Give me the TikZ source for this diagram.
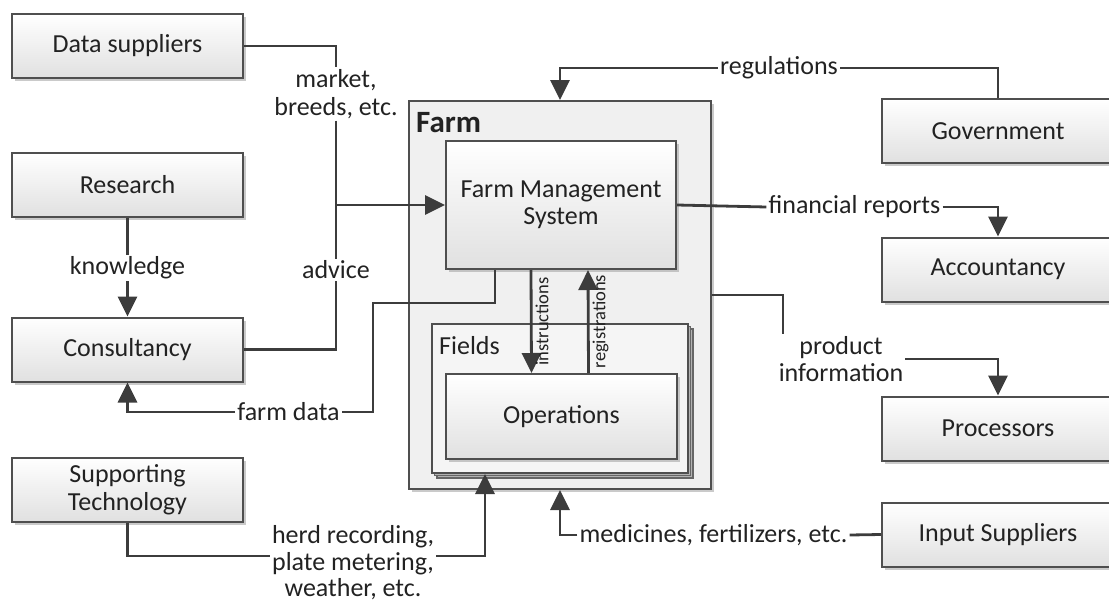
\documentclass[tikz,border=0pt]{standalone}
\usepackage{fontspec}
\setmainfont{Carlito}
\usetikzlibrary{arrows.meta,shadows}

\definecolor{linea}{HTML}{3C3C3C}
\definecolor{borde}{HTML}{4F4F4F}
\definecolor{texto}{HTML}{222222}

\begin{document}
\begin{tikzpicture}[x=1pt, y=-1pt, >={Triangle[length=20pt,width=19pt]},
  text=texto, font=\fontsize{26}{27.5}\selectfont,
  box/.style={draw=borde, line width=2pt, top color=white, bottom color=black!12,
    minimum width=231pt, minimum height=64pt, inner sep=0pt, align=center,
    drop shadow={shadow xshift=3pt, shadow yshift=-3pt, fill=black!35, opacity=0.6}},
  lbl/.style={inner sep=2pt, align=center},
  flow/.style={draw=linea, line width=2.8pt},
  vlbl/.style={rotate=90, anchor=north, inner sep=3pt, font=\fontsize{18.5}{20}\selectfont}]
  \useasboundingbox (0,0) rectangle (1109,605);
  % granja
  \node[draw=borde, line width=2pt, fill=black!6, minimum width=302pt, minimum height=388pt,
    drop shadow={shadow xshift=3pt, shadow yshift=-3pt, fill=black!35, opacity=0.6}] (farm) at (560,295) {};
  \node[anchor=north west, inner sep=0pt, font=\fontsize{31}{34}\selectfont\bfseries] (farmlbl)
    at ([xshift=8pt,yshift=-12pt]farm.north west) {Farm};
  \node[draw=borde, line width=2pt, fill=black!4, minimum width=256pt, minimum height=149pt,
    double copy shadow={shadow xshift=2.5pt, shadow yshift=-2.5pt, draw=black!60, fill=black!30, line width=1.2pt}] (fields) at (560,398.5) {};
  \node[anchor=north west, inner sep=0pt] (fieldslbl)
    at ([xshift=8pt,yshift=-13pt]fields.north west) {Fields};
  \node[box, minimum width=230pt, minimum height=128pt] (fms) at (561,205) {Farm Management\\System};
  \node[box, minimum height=85pt] (ops) at (561.5,416.5) {Operations};
  % actores izquierda
  \node[box] (ds) at (127.5,46) {Data suppliers};
  \node[box] (res) at (127.5,185) {Research};
  \node[box] (cons) at (127.5,349.5) {Consultancy};
  \node[box] (st) at (127.5,489.5) {Supporting\\Technology};
  % actores derecha
  \node[box, minimum width=232pt] (gov) at (998,131) {Government};
  \node[box, minimum width=232pt] (acc) at (998,269.5) {Accountancy};
  \node[box, minimum width=232pt] (proc) at (998,428.5) {Processors};
  \node[box, minimum width=232pt] (inp) at (998,534.5) {Input Suppliers};
  % etiquetas
  \node[lbl] (mkt) at (336,94) {market,\\breeds, etc.};
  \node[lbl] (adv) at (336,270) {advice};
  \node[lbl] (knw) at (127.5,268) {knowledge};
  \node[lbl] (fd) at (288.5,412) {farm data};
  \node[lbl, font=\fontsize{26}{26.5}\selectfont] (herd) at (353,563) {herd recording,\\plate metering,\\weather, etc.};
  \node[lbl] (med) at (713.5,535) {medicines, fertilizers, etc.};
  \node[lbl] (reg) at (779,68) {regulations};
  \node[lbl] (fin) at (854.5,207) {financial reports};
  \node[lbl] (prod) at (841,359) {product\\information};
  \coordinate (jn) at (336,205);
  \coordinate (fdk) at (373,303);
  % flujos izquierda
  \draw[flow] (ds.east) -| (mkt.north);
  \draw[flow] (mkt.south) -- (jn);
  \draw[flow] (cons.east) -| (adv.south);
  \draw[flow] (adv.north) -- (jn);
  \draw[flow, ->] (jn) -- (fms.west);
  \draw[flow] (res.south) -- (knw.north);
  \draw[flow, ->] (knw.south) -- (cons.north);
  \draw[flow] ([xshift=50pt]fms.south west) |- (fdk) |- (fd.east);
  \draw[flow, ->] (fd.west) -| (cons.south);
  \draw[flow] (st.south) |- ([yshift=7pt]herd.west);
  \draw[flow, ->] ([yshift=7pt]herd.east) -| ([xshift=54pt]fields.south west);
  % dentro de la granja
  \draw[flow, ->] ([xshift=-30pt]fms.south) -- ([xshift=-30pt]ops.north)
    node[vlbl, midway] (ins) {instructions};
  \draw[flow, ->] ([xshift=27pt]ops.north) -- ([xshift=27pt]fms.south)
    node[vlbl, midway] (regs) {registrations};
  % flujos derecha
  \draw[flow] (gov.north) |- (reg.east);
  \draw[flow, ->] (reg.west) -| (farm.north);
  \draw[flow] (fms.east) -- (fin.west);
  \draw[flow, ->] (fin.east) -| (acc.north);
  \draw[flow] (farm.east) -| ([xshift=-58pt]prod.north);
  \draw[flow, ->] (prod.east) -| (proc.north);
  \draw[flow] (inp.west) -- (med.east);
  \draw[flow, ->] (med.west) -| (farm.south);
\end{tikzpicture}
\end{document}
